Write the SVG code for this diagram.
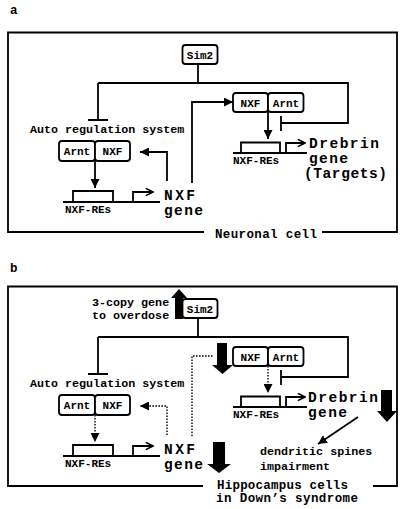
<svg xmlns="http://www.w3.org/2000/svg" width="403" height="509" viewBox="0 0 403 509">
<style>
text{font-family:"Liberation Mono","Courier New",monospace;font-weight:bold;fill:#000}
.ln{fill:none;stroke:#000;stroke-width:1.8}
.dt{fill:none;stroke:#000;stroke-width:1.4;stroke-dasharray:1.6 1.4}
.bx{fill:#fff;stroke:#000;stroke-width:1.8}
.s{font-size:11px}
.m{font-size:11.7px}
.big{font-size:14.5px}
.lbl{font-size:12.5px}
.blk{fill:#000;stroke:none}
</style>
<defs>
<marker id="ah" markerUnits="userSpaceOnUse" markerWidth="9" markerHeight="9" viewBox="0 0 10 10" refX="10" refY="5" orient="auto"><path d="M0 0L10 5L0 10z"/></marker>
<marker id="op" markerUnits="userSpaceOnUse" markerWidth="9" markerHeight="9" viewBox="0 0 10 10" refX="9" refY="5" orient="auto"><path d="M1 1L9 5L1 9" fill="none" stroke="#000" stroke-width="1.8"/></marker>
</defs>

<g id="panel-a">
<text class="lbl" x="10" y="14">a</text>
<path id="a-cell" class="ln" d="M204 232H8V32.5H397V232H322"/>
<text class="lbl" x="215" y="238" textLength="102">Neuronal cell</text>

<g id="a-connectors">
<path class="ln" d="M198 64V83M98 83H348V123H281M98 83V120M88 120H108M281 116V131"/>
<path class="ln" d="M192 183V102H233" marker-end="url(#ah)"/>
<path class="ln" d="M268 112V139" marker-end="url(#ah)"/>
<path class="ln" d="M95 161V188" marker-end="url(#ah)"/>
<path class="ln" d="M167 181V152H140" marker-end="url(#ah)"/>
</g>

<g id="a-sim2"><rect class="bx" x="182.5" y="45" width="35" height="19" rx="3"/><text class="s" x="200" y="58.5" text-anchor="middle">Sim2</text></g>
<g id="a-nxf-arnt"><rect class="bx" x="233" y="93" width="35" height="19" rx="3"/><rect class="bx" x="268" y="93" width="35.5" height="19" rx="3"/><text class="s" x="250.5" y="106.5" text-anchor="middle">NXF</text><text class="s" x="286" y="106.5" text-anchor="middle">Arnt</text></g>
<text class="m" x="30" y="133">Auto regulation system</text>
<g id="a-arnt-nxf"><rect class="bx" x="59" y="141" width="36" height="20" rx="3"/><rect class="bx" x="95" y="141" width="35" height="20" rx="3"/><text class="s" x="77" y="155" text-anchor="middle">Arnt</text><text class="s" x="112.5" y="155" text-anchor="middle">NXF</text></g>
<g id="a-nxf-gene"><path class="ln" d="M63 202H160M73 202V191H113V202"/><path class="ln" d="M133 202V192H153" marker-end="url(#op)"/><text class="s" x="65" y="213">NXF-REs</text><text class="big" x="164" y="200" textLength="31">NXF</text><text class="big" x="164" y="215" textLength="39">gene</text></g>
<g id="a-drebrin"><path class="ln" d="M233 153H307M241 153V142.5H280V153"/><path class="ln" d="M286 153V143H305" marker-end="url(#op)"/><text class="s" x="233" y="164">NXF-REs</text><text class="big" x="309" y="148" textLength="70">Drebrin</text><text class="big" x="309" y="163" textLength="39">gene</text><text class="big" x="304" y="178" textLength="83">(Targets)</text></g>
</g>

<g id="panel-b">
<text class="lbl" x="10" y="272">b</text>
<path id="b-cell" class="ln" d="M203 486H8V286.5H397V486H373"/>
<text class="lbl" x="217" y="489" textLength="131">Hippocampus cells</text>
<text class="lbl" x="216" y="502" textLength="142">in Down’s syndrome</text>

<g id="b-connectors">
<path class="ln" d="M198 318V337M98 337H348V377H281M98 337V374M88 374H108M281 370V385"/>
<path class="dt" d="M192 436V356H214"/>
<path class="dt" d="M268 366V393" marker-end="url(#ah)"/>
<path class="dt" d="M95 415V442" marker-end="url(#ah)"/>
<path class="dt" d="M167 435V406H140" marker-end="url(#ah)"/>
<path class="ln" d="M358 417L318 444" stroke-width="1.5" marker-end="url(#ah)"/>
</g>

<g id="b-sim2"><rect class="bx" x="182.5" y="299" width="35" height="19" rx="3"/><text class="s" x="200" y="312.5" text-anchor="middle">Sim2</text></g>
<g id="b-overdose"><polygon class="blk" points="175,319 183,319 183,298 187,298 179,289 171,298 175,298"/><text class="m" x="92" y="306">3-copy gene</text><text class="m" x="92" y="319">to overdose</text></g>
<g id="b-nxf-arnt"><rect class="bx" x="233" y="347" width="35" height="19" rx="3"/><rect class="bx" x="268" y="347" width="35.5" height="19" rx="3"/><text class="s" x="250.5" y="360.5" text-anchor="middle">NXF</text><text class="s" x="286" y="360.5" text-anchor="middle">Arnt</text></g>
<polygon id="b-down1" class="blk" points="217,343 227,343 227,365 233,365 222.5,374 212,365 217,365"/>
<text class="m" x="30" y="387">Auto regulation system</text>
<g id="b-arnt-nxf"><rect class="bx" x="59" y="395" width="36" height="20" rx="3"/><rect class="bx" x="95" y="395" width="35" height="20" rx="3"/><text class="s" x="77" y="409" text-anchor="middle">Arnt</text><text class="s" x="112.5" y="409" text-anchor="middle">NXF</text></g>
<g id="b-nxf-gene"><path class="ln" d="M63 456H160M73 456V445H113V456"/><path class="ln" d="M133 456V446H153" marker-end="url(#op)"/><text class="s" x="65" y="467">NXF-REs</text><text class="big" x="164" y="454" textLength="31">NXF</text><text class="big" x="164" y="469" textLength="39">gene</text></g>
<polygon id="b-down2" class="blk" points="213,442 225,442 225,464 231,464 219,473 207,464 213,464"/>
<g id="b-drebrin"><path class="ln" d="M233 407H307M241 407V396.5H280V407"/><path class="ln" d="M286 407V397H305" marker-end="url(#op)"/><text class="s" x="233" y="418">NXF-REs</text><text class="big" x="308" y="402" textLength="70">Drebrin</text><text class="big" x="308" y="417" textLength="39">gene</text></g>
<polygon id="b-down3" class="blk" points="381,390 392,390 392,411 397,411 387,422 377,411 381,411"/>
<g id="b-spines"><text class="m" x="260" y="455">dendritic spines</text><text class="m" x="260" y="470">impairment</text></g>
</g>
</svg>
